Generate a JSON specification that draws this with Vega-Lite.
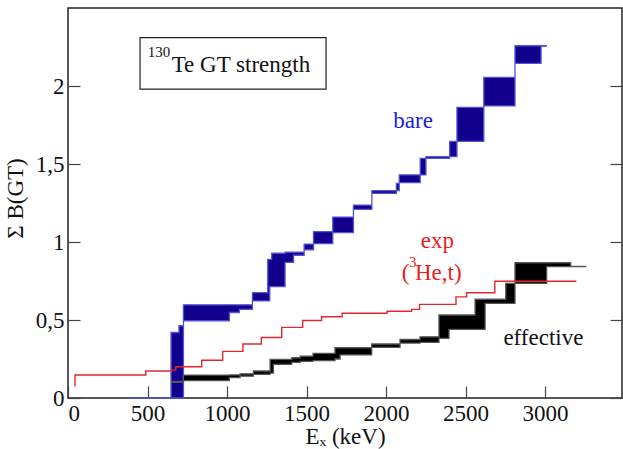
{
  "$schema": "https://vega.github.io/schema/vega-lite/v6.json",
  "width": 554,
  "height": 390,
  "autosize": {"type": "none"},
  "padding": {"left": 68, "top": 8, "right": 1, "bottom": 51},
  "background": "white",
  "config": {
    "view": {"stroke": "#222222", "strokeWidth": 1.5},
    "font": "Liberation Serif",
    "axis": {
      "grid": false, "domain": false, "tickColor": "#444444", "tickWidth": 1.2,
      "tickSize": -12, "labelFont": "Liberation Serif", "labelFontSize": 23,
      "labelColor": "#111111", "titleFont": "Liberation Serif", "titleFontSize": 23,
      "titleFontWeight": "normal", "titleColor": "#111111"
    }
  },
  "datasets": {
    "bare": [
      {"e": 380, "hi": 0, "lo": 0},
      {"e": 648, "hi": 0.42, "lo": 0},
      {"e": 698, "hi": 0.463, "lo": 0},
      {"e": 726, "hi": 0.597, "lo": 0.495},
      {"e": 1015, "hi": 0.597, "lo": 0.548},
      {"e": 1078, "hi": 0.597, "lo": 0.568},
      {"e": 1160, "hi": 0.675, "lo": 0.622},
      {"e": 1256, "hi": 0.889, "lo": 0.622},
      {"e": 1269, "hi": 0.889, "lo": 0.714},
      {"e": 1281, "hi": 0.928, "lo": 0.714},
      {"e": 1365, "hi": 0.935, "lo": 0.87},
      {"e": 1418, "hi": 0.935, "lo": 0.915},
      {"e": 1485, "hi": 0.987, "lo": 0.95},
      {"e": 1544, "hi": 1.066, "lo": 0.99},
      {"e": 1665, "hi": 1.16, "lo": 1.06},
      {"e": 1795, "hi": 1.237, "lo": 1.209},
      {"e": 1911, "hi": 1.329, "lo": 1.312},
      {"e": 2065, "hi": 1.376, "lo": 1.33},
      {"e": 2083, "hi": 1.43, "lo": 1.38},
      {"e": 2215, "hi": 1.536, "lo": 1.43},
      {"e": 2251, "hi": 1.547, "lo": 1.536},
      {"e": 2400, "hi": 1.645, "lo": 1.547},
      {"e": 2446, "hi": 1.863, "lo": 1.645},
      {"e": 2615, "hi": 2.055, "lo": 1.872},
      {"e": 2811, "hi": 2.258, "lo": 2.145},
      {"e": 2975, "hi": 2.258, "lo": 2.255},
      {"e": 3008, "hi": 2.258, "lo": 2.255}
    ],
    "effective": [
      {"e": 652, "hi": 0.107, "lo": 0.1},
      {"e": 726, "hi": 0.147, "lo": 0.111},
      {"e": 1015, "hi": 0.148, "lo": 0.13},
      {"e": 1082, "hi": 0.155, "lo": 0.14},
      {"e": 1166, "hi": 0.173, "lo": 0.152},
      {"e": 1271, "hi": 0.248, "lo": 0.16},
      {"e": 1292, "hi": 0.248, "lo": 0.216},
      {"e": 1407, "hi": 0.258, "lo": 0.228},
      {"e": 1460, "hi": 0.268, "lo": 0.235},
      {"e": 1541, "hi": 0.286, "lo": 0.24},
      {"e": 1679, "hi": 0.322, "lo": 0.25},
      {"e": 1711, "hi": 0.322, "lo": 0.276},
      {"e": 1910, "hi": 0.346, "lo": 0.325},
      {"e": 2088, "hi": 0.375, "lo": 0.352},
      {"e": 2214, "hi": 0.392, "lo": 0.357},
      {"e": 2333, "hi": 0.532, "lo": 0.382},
      {"e": 2396, "hi": 0.532, "lo": 0.44},
      {"e": 2560, "hi": 0.633, "lo": 0.44},
      {"e": 2623, "hi": 0.633, "lo": 0.606},
      {"e": 2753, "hi": 0.735, "lo": 0.606},
      {"e": 2811, "hi": 0.867, "lo": 0.735},
      {"e": 3010, "hi": 0.867, "lo": 0.842},
      {"e": 3161, "hi": 0.843, "lo": 0.842},
      {"e": 3256, "hi": 0.843, "lo": 0.842}
    ],
    "exp": [
      {"i": 0, "e": 44, "v": 0.073},
      {"i": 1, "e": 44, "v": 0.147},
      {"i": 2, "e": 489, "v": 0.173},
      {"i": 3, "e": 652, "v": 0.18},
      {"i": 4, "e": 678, "v": 0.2},
      {"i": 5, "e": 841, "v": 0.242},
      {"i": 6, "e": 973, "v": 0.299},
      {"i": 7, "e": 1100, "v": 0.346},
      {"i": 8, "e": 1216, "v": 0.388},
      {"i": 9, "e": 1344, "v": 0.453},
      {"i": 10, "e": 1476, "v": 0.497},
      {"i": 11, "e": 1595, "v": 0.521},
      {"i": 12, "e": 1724, "v": 0.543},
      {"i": 13, "e": 2006, "v": 0.556},
      {"i": 14, "e": 2161, "v": 0.568},
      {"i": 15, "e": 2211, "v": 0.6},
      {"i": 16, "e": 2440, "v": 0.648},
      {"i": 17, "e": 2507, "v": 0.675},
      {"i": 18, "e": 2684, "v": 0.748},
      {"i": 19, "e": 3197, "v": 0.748}
    ]
  },
  "resolve": {"axis": {"y": "independent"}},
  "layer": [
    {
      "data": {"name": "bare"},
      "mark": {"type": "area", "interpolate": "step-after", "fill": "#13008c", "stroke": "#5252d6", "strokeWidth": 1.3},
      "encoding": {
        "x": {"field": "e", "type": "quantitative", "scale": {"domain": [0, 3484], "nice": false},
              "axis": {"values": [0, 500, 1000, 1500, 2000, 2500, 3000], "format": "d", "labelPadding": 16, "title": "Eₓ (keV)",
                       "titleX": 277, "titleY": 45, "titleBaseline": "alphabetic"}},
        "y": {"field": "hi", "type": "quantitative", "scale": {"domain": [0, 2.5], "nice": false},
              "axis": {"orient": "left", "values": [0, 0.5, 1, 1.5, 2], "labelExpr": "replace(format(datum.value, '~g'), '.', ',')", "labelPadding": 16,
                       "title": "Σ B(GT)", "titleAngle": 270, "titleX": -46, "titleY": 190, "titleAlign": "center", "titleBaseline": "alphabetic"}},
        "y2": {"field": "lo"}
      }
    },
    {
      "data": {"name": "effective"},
      "mark": {"type": "area", "interpolate": "step-after", "fill": "#000000", "stroke": "#555555", "strokeWidth": 1.3},
      "encoding": {
        "x": {"field": "e", "type": "quantitative"},
        "y": {"field": "hi", "type": "quantitative", "axis": null},
        "y2": {"field": "lo"}
      }
    },
    {
      "data": {"name": "exp"},
      "mark": {"type": "line", "interpolate": "step-after", "color": "#e8242c", "strokeWidth": 1.4},
      "encoding": {
        "x": {"field": "e", "type": "quantitative"},
        "y": {"field": "v", "type": "quantitative", "axis": null},
        "order": {"field": "i", "type": "quantitative"}
      }
    },
    {
      "data": {"values": [{"x1": 453, "x2": 1623, "y1": 2.31, "y2": 1.98}]},
      "mark": {"type": "rect", "fill": "white", "stroke": "#222222", "strokeWidth": 1.2},
      "encoding": {
        "x": {"field": "x1", "type": "quantitative"},
        "x2": {"field": "x2"},
        "y": {"field": "y1", "type": "quantitative",
              "axis": {"orient": "right", "values": [0, 0.5, 1, 1.5, 2], "labels": false, "title": null}},
        "y2": {"field": "y2"}
      }
    },
    {
      "data": {"values": [
        {"e": 652, "v": 2.088, "t": "Te GT strength"},
        {"e": 2738, "v": 0.34, "t": "effective"}
      ]},
      "mark": {"type": "text", "align": "left", "baseline": "alphabetic", "fontSize": 23, "font": "Liberation Serif", "color": "#111111"},
      "encoding": {"x": {"field": "e", "type": "quantitative"}, "y": {"field": "v", "type": "quantitative", "axis": null}, "text": {"field": "t"}}
    },
    {
      "data": {"values": [{"e": 501, "v": 2.183, "t": "130"}]},
      "mark": {"type": "text", "align": "left", "baseline": "alphabetic", "fontSize": 15, "font": "Liberation Serif", "color": "#111111"},
      "encoding": {"x": {"field": "e", "type": "quantitative"}, "y": {"field": "v", "type": "quantitative", "axis": null}, "text": {"field": "t"}}
    },
    {
      "data": {"values": [{"e": 2046, "v": 1.733, "t": "bare"}]},
      "mark": {"type": "text", "align": "left", "baseline": "alphabetic", "fontSize": 23, "font": "Liberation Serif", "color": "#1c1cdc"},
      "encoding": {"x": {"field": "e", "type": "quantitative"}, "y": {"field": "v", "type": "quantitative", "axis": null}, "text": {"field": "t"}}
    },
    {
      "data": {"values": [
        {"e": 2218, "v": 0.96, "t": "exp"},
        {"e": 2099, "v": 0.756, "t": "("},
        {"e": 2182, "v": 0.756, "t": "He,t)"}
      ]},
      "mark": {"type": "text", "align": "left", "baseline": "alphabetic", "fontSize": 23, "font": "Liberation Serif", "color": "#ee1c1c"},
      "encoding": {"x": {"field": "e", "type": "quantitative"}, "y": {"field": "v", "type": "quantitative", "axis": null}, "text": {"field": "t"}}
    },
    {
      "data": {"values": [{"e": 2145, "v": 0.842, "t": "3"}]},
      "mark": {"type": "text", "align": "left", "baseline": "alphabetic", "fontSize": 15, "font": "Liberation Serif", "color": "#ee1c1c"},
      "encoding": {"x": {"field": "e", "type": "quantitative"}, "y": {"field": "v", "type": "quantitative", "axis": null}, "text": {"field": "t"}}
    }
  ]
}
